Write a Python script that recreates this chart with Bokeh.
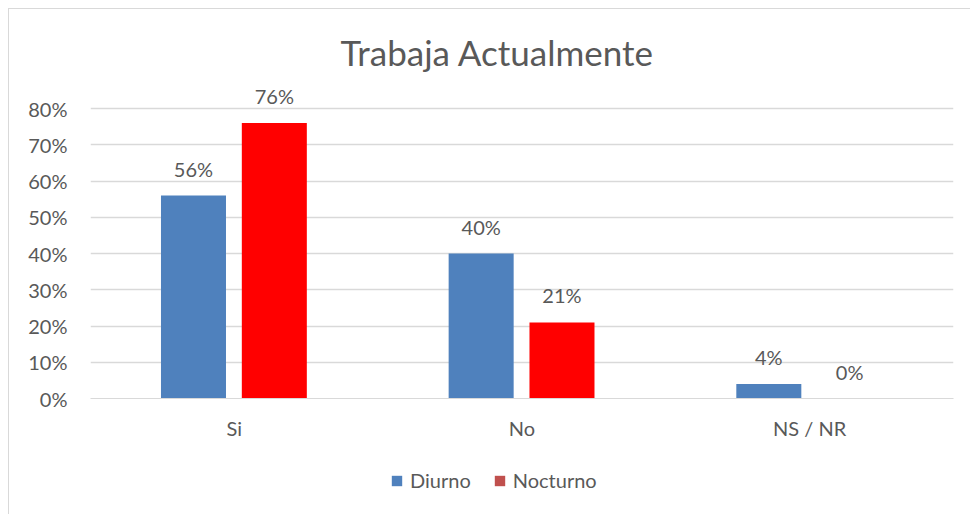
from bokeh.plotting import figure
from bokeh.layouts import column
from bokeh.models import ColumnDataSource, FactorRange, Legend, LegendItem, NumeralTickFormatter, FixedTicker
from bokeh.transform import dodge
from bokeh.core.properties import value
from bokeh.embed import file_html
from bokeh.resources import INLINE

categories = ["Si", "No", "NS / NR"]
diurno = [0.56, 0.40, 0.04]
nocturno = [0.76, 0.21, 0.00]
diurno_labels = ["56%", "40%", "4%"]
nocturno_labels = ["76%", "21%", "0%"]
y_ticks = [0, 0.1, 0.2, 0.3, 0.4, 0.5, 0.6, 0.7, 0.8]

FONT = "Lato"
TXT = "#595959"

src = ColumnDataSource(dict(cat=categories, d=diurno, n=nocturno, dl=diurno_labels, nl=nocturno_labels))

p = figure(x_range=FactorRange(*categories, range_padding=0), y_range=(0, 0.88),
           width=961, height=447, output_backend="svg", toolbar_location=None,
           min_border_left=81, min_border_right=17, min_border_top=70, min_border_bottom=58)

p.title.text = "Trabaja Actualmente"
p.title.align = "left"
p.title.offset = 250
p.title.text_font = FONT
p.title.text_font_style = "normal"
p.title.text_font_size = "35px"
p.title.text_color = TXT
p.title.standoff = 13

p.vbar(x=dodge("cat", -0.142, range=p.x_range), top="d", width=0.226, source=src,
       fill_color="#4F81BD", line_color=None)
p.vbar(x=dodge("cat", 0.139, range=p.x_range), top="n", width=0.226, source=src,
       fill_color="#FF0000", line_color=None)

p.text(x=dodge("cat", -0.142, range=p.x_range), y="d", text="dl", source=src,
       text_align="center", text_baseline="bottom", y_offset=-15,
       text_font=value(FONT), text_font_size="20px", text_color=TXT)
p.text(x=dodge("cat", 0.139, range=p.x_range), y="n", text="nl", source=src,
       text_align="center", text_baseline="bottom", y_offset=-15,
       text_font=value(FONT), text_font_size="20px", text_color=TXT)

p.yaxis.ticker = FixedTicker(ticks=y_ticks)
p.yaxis.formatter = NumeralTickFormatter(format="0%")
p.yaxis.axis_line_color = None
p.yaxis.major_tick_line_color = None
p.yaxis.minor_tick_line_color = None
p.yaxis.major_label_text_font = FONT
p.yaxis.major_label_text_font_size = "20px"
p.yaxis.major_label_text_color = TXT
p.yaxis.major_label_standoff = 17

p.xaxis.axis_line_color = "#D9D9D9"
p.xaxis.major_tick_line_color = None
p.xaxis.minor_tick_line_color = None
p.xaxis.major_label_text_font = FONT
p.xaxis.major_label_text_font_size = "20px"
p.xaxis.major_label_text_color = TXT
p.xaxis.major_label_standoff = 11

p.xgrid.grid_line_color = None
p.ygrid.grid_line_color = "#D9D9D9"
p.ygrid.grid_line_width = 1.5
p.outline_line_color = None

# legend in its own strip below the chart; swatch renderers are zero-height bars
lg = figure(x_range=FactorRange(*categories), y_range=(0, 1), width=961, height=58,
            output_backend="svg", toolbar_location=None, min_border=0,
            x_axis_location=None, y_axis_location=None)
lg.grid.visible = False
lg.outline_line_color = None
ld = lg.vbar(x="cat", top="d", bottom="d", width=0.1, source=src, fill_color="#4F81BD", line_color=None)
ln = lg.vbar(x="cat", top="n", bottom="n", width=0.1, source=src, fill_color="#C0504D", line_color=None)
legend = Legend(items=[LegendItem(label="Diurno", renderers=[ld]), LegendItem(label="Nocturno", renderers=[ln])],
                orientation="horizontal", location=(300, 22), border_line_color=None,
                background_fill_alpha=0,
                label_text_font=FONT, label_text_font_size="20px", label_text_color=TXT,
                glyph_width=13, glyph_height=13, spacing=22, label_standoff=7, padding=4, margin=0)
lg.add_layout(legend)

layout = column(p, lg, spacing=0)
layout.styles = {"border-left": "1px solid #D9D9D9", "border-top": "1px solid #D9D9D9",
                 "margin-left": "8px", "margin-top": "8px"}

open("out.html", "w").write(file_html(layout, INLINE))
